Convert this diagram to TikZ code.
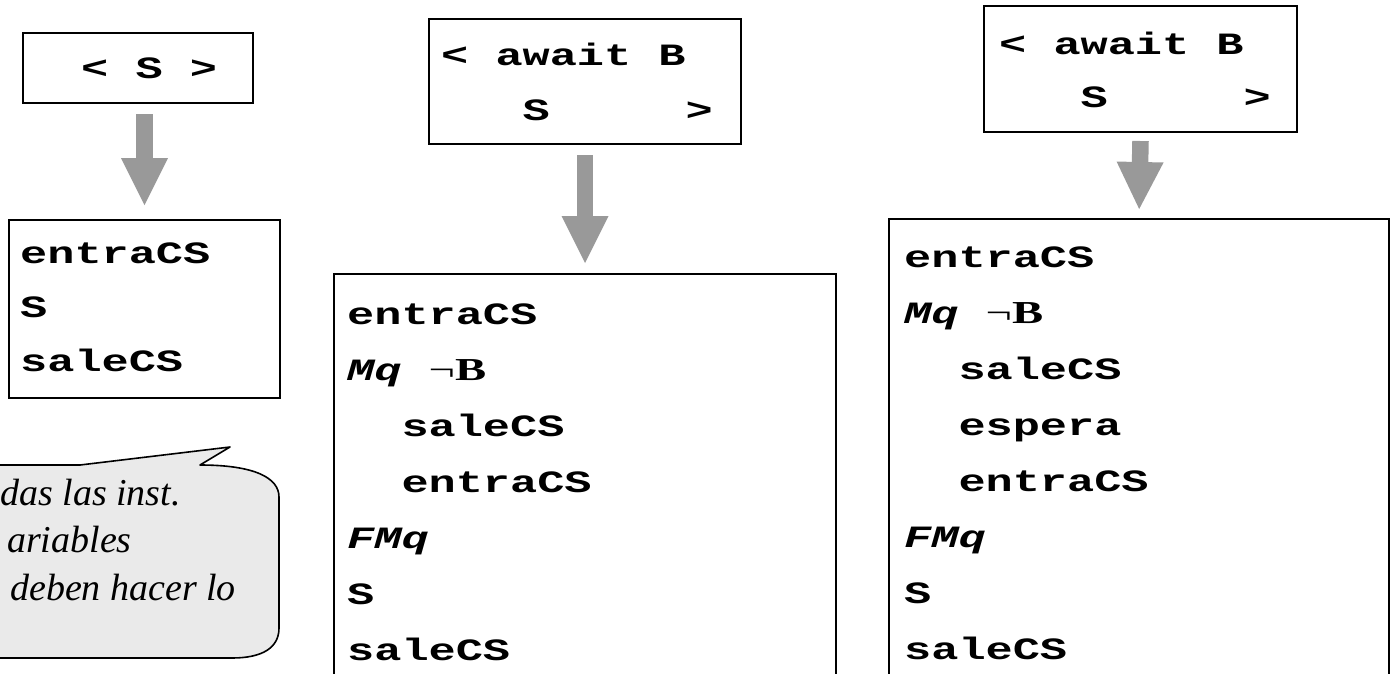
\documentclass[tikz,border=0pt]{standalone}
\usepackage{fontspec}
\usetikzlibrary{arrows.meta,calc}
% wide bold typewriter face for the code, serif for the negation, italic serif for the note
\newfontfamily\codefont[FakeStretch=1.46]{Liberation Mono}
\newfontfamily\symfont[FakeStretch=1.46]{Liberation Serif}
\newfontfamily\notefont{Liberation Serif}
\definecolor{arrowgray}{HTML}{999999}
\definecolor{notefill}{HTML}{EAEAEA}
\tikzset{
  codebox/.style={draw=black, line width=2pt, inner sep=0pt, anchor=north west},
  codetext/.style={inner sep=0pt, anchor=base west,
    font=\codefont\bfseries\fontsize{31}{#1}\selectfont},
  blockarrow/.style={draw=arrowgray, line width=16.5pt,
    -{Triangle[length=47pt,width=47pt,line width=0pt]}},
  notebubble/.style={fill=notefill, draw=black, line width=1.6pt, line join=round},
  notetext/.style={inner sep=0pt, anchor=base west,
    font=\notefont\itshape\fontsize{38}{47.5}\selectfont},
}
\newcommand\codecol[1]{\begin{tabular}[t]{@{}l@{}}#1\end{tabular}}
\newcommand\negB{{\symfont\fontsize{32}{32}\selectfont\upshape\mdseries ¬\bfseries B}}

\begin{document}
\begin{tikzpicture}[x=1pt,y=-1pt]
\useasboundingbox (0,0) rectangle (1390,673);
\fill[white] (0,0) rectangle (1390,673);
\begin{scope}
\clip (0,0) rectangle (1390,673);

% atomic statements
\node[codebox, minimum width=230pt, minimum height=70pt] (b1) at (22,32) {};
\node[codebox, minimum width=312pt, minimum height=125pt] (b2) at (428,18) {};
\node[codebox, minimum width=313pt, minimum height=126pt] (b3) at (983,5) {};

\node[codetext=54] (t1) at (81,78) {\codecol{< S >}};
\node[codetext=55] (t2) at (441,65) {\codecol{< await B\\ \ \ \ S\ \ \ \ \ >}};
\node[codetext=53] (t3) at (999,54) {\codecol{< await B\\ \ \ \ S\ \ \ \ \ >}};

% translations
\node[codebox, minimum width=271pt, minimum height=178pt] (c1) at (8,219) {};
\node[codebox, minimum width=502pt, minimum height=450pt] (c2) at (333,273) {};
\node[codebox, minimum width=500pt, minimum height=500pt] (c3) at (888,218) {};

\node[codetext=54] (u1) at (20,263) {\codecol{entraCS\\S\\saleCS}};
\node[codetext=56] (u2) at (347,324) {\codecol{entraCS\\
  \textit{Mq} \negB\\
  \ \ saleCS\\
  \ \ entraCS\\
  \textit{FMq}\\
  S\\
  saleCS}};
\node[codetext=56] (u3) at (904,267) {\codecol{entraCS\\
  \textit{Mq} \negB\\
  \ \ saleCS\\
  \ \ espera\\
  \ \ entraCS\\
  \textit{FMq}\\
  S\\
  saleCS}};

% translation arrows
\draw[blockarrow, line width=17pt, shorten >=14pt]
  ($(c1.north |- b1.south)+(0,10)$) -- (c1.north);
\draw[blockarrow, shorten >=10pt] ($(b2.south)+(0,10)$) -- (c2.north);
\draw[blockarrow, shorten >=9pt] ($(b3.south)+(0,8)$) -- (c3.north);

% speech bubble
\filldraw[notebubble] (-40,465) -- (80,465) -- (230,447) -- (200,465)
  .. controls (255,465) and (279,478) .. (279,497) -- (279,628)
  .. controls (279,648) and (262,658) .. (232,658) -- (-40,658) -- cycle;
\node[notetext] (n1) at (0,505) {\begin{tabular}[t]{@{}l@{}}das las inst.\\
  \hspace*{7pt}ariables\\
  \hspace*{10pt}deben hacer lo\end{tabular}};
\end{scope}
\end{tikzpicture}
\end{document}
